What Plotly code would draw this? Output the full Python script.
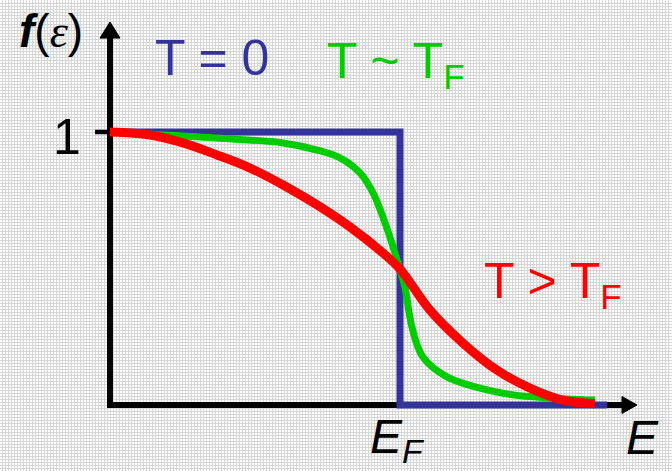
import plotly.graph_objects as go

# Occupation f(E) for three temperatures; energy in units of E_F
e_zero = [0.0, 1.0, 1.0, 1.714]
f_zero = [1.0, 1.0, 0.0, 0.0]

e_mid = [0.0, 0.252, 0.424, 0.597, 0.714, 0.793, 0.862, 0.907, 0.941, 0.972,
         1.0, 1.017, 1.041, 1.079, 1.162, 1.276, 1.390, 1.507, 1.672]
f_mid = [1.0, 0.985, 0.974, 0.960, 0.934, 0.905, 0.850, 0.777, 0.689, 0.593,
         0.495, 0.432, 0.286, 0.176, 0.103, 0.062, 0.037, 0.026, 0.018]

e_hot = [0.0, 0.138, 0.252, 0.369, 0.483, 0.597, 0.714, 0.828, 0.941, 1.0,
         1.103, 1.217, 1.334, 1.448, 1.562, 1.672]
f_hot = [1.0, 0.989, 0.960, 0.916, 0.868, 0.806, 0.733, 0.652, 0.557, 0.498,
         0.348, 0.227, 0.128, 0.062, 0.018, 0.005]

y_ticks = [1]
y_tick_text = ["1"]

BLUE = "#333399"
GREEN = "#00cc00"
RED = "#ff0000"

X_RANGE = [-0.37931, 1.93793]
Y_RANGE = [-0.241758, 1.483516]

fig = go.Figure()

# axis lines with arrowheads
fig.add_trace(go.Scatter(x=[0, 0, 1.776], y=[1.35, 0, 0], mode="lines",
                         line=dict(color="black", width=6), hoverinfo="skip"))
fig.add_trace(go.Scatter(x=[-0.0345, 0, 0.0345, -0.0345], y=[1.344, 1.4029, 1.344, 1.344],
                         mode="lines", fill="toself", fillcolor="black",
                         line=dict(color="black", width=1), hoverinfo="skip"))
fig.add_trace(go.Scatter(x=[1.7655, 1.8172, 1.7655, 1.7655], y=[0.031, 0, -0.031, 0.031],
                         mode="lines", fill="toself", fillcolor="black",
                         line=dict(color="black", width=1), hoverinfo="skip"))
# tick at f = 1
fig.add_trace(go.Scatter(x=[-0.0517, 0], y=[y_ticks[0], y_ticks[0]], mode="lines",
                         line=dict(color="black", width=4.5), hoverinfo="skip"))

fig.add_trace(go.Scatter(x=e_zero, y=f_zero, mode="lines",
                         line=dict(color=BLUE, width=7), hoverinfo="skip"))
fig.add_trace(go.Scatter(x=e_mid, y=f_mid, mode="lines", line_shape="spline",
                         line=dict(color=GREEN, width=7), hoverinfo="skip"))
fig.add_trace(go.Scatter(x=e_hot, y=f_hot, mode="lines", line_shape="spline",
                         line=dict(color=RED, width=9), hoverinfo="skip"))

FONT = "Liberation Sans"

def label(text, x, y, size, color="black"):
    fig.add_annotation(x=x, y=y, xref="x", yref="y", text=text, showarrow=False,
                       xanchor="center", yanchor="middle",
                       font=dict(family=FONT, size=size, color=color))

def ex(px):
    return (px - 110) / 290

def fy(py):
    return (405 - py) / 273

label(y_tick_text[0], ex(67), fy(137), 50)
label("<b><i>f</i></b>(<span style=\"font-family:'Liberation Serif'\"><i>ε</i></span>)",
      ex(51), fy(31), 46)
label("T = 0", ex(212), fy(58), 50, BLUE)
label("T ~ T<sub>F</sub>", ex(396), fy(64), 50, GREEN)
label("T > T<sub>F</sub>", ex(553), fy(284), 50, RED)
label("<i>E<sub>F</sub></i>", ex(397), fy(440), 48)
label("<i>E</i>", ex(642), fy(437), 48)

# fine background grid (about 3 px pitch)
fig.update_layout(
    width=672, height=471, autosize=False,
    margin=dict(l=0, r=0, t=0, b=0),
    paper_bgcolor="white", plot_bgcolor="white",
    showlegend=False,
    xaxis=dict(range=X_RANGE, showticklabels=False, ticks="", showline=False,
               zeroline=False, showgrid=True, gridcolor="#d6d6d6", gridwidth=1,
               tick0=0.5 / 290, dtick=3 / 290, fixedrange=True),
    yaxis=dict(range=Y_RANGE, showticklabels=False, ticks="", showline=False,
               zeroline=False, showgrid=True, gridcolor="#d6d6d6", gridwidth=1,
               tick0=-0.5 / 273, dtick=3 / 273, fixedrange=True),
)

fig.write_html("out.html")
